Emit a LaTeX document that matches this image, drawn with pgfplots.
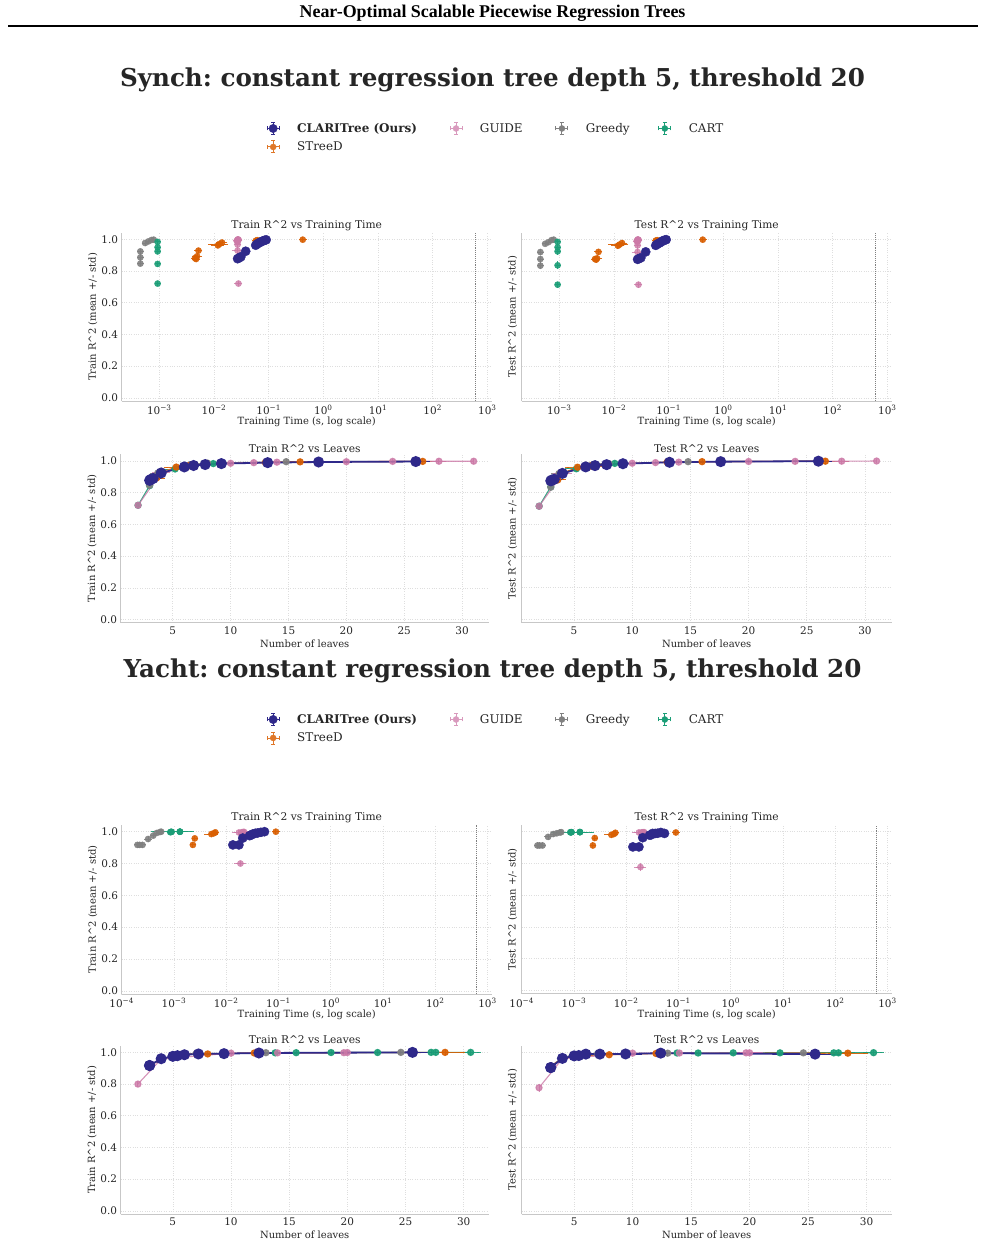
\documentclass[border=0pt]{standalone}
\usepackage{fontspec}
\setmainfont{DejaVu Serif}
\newfontfamily\headfont{Liberation Serif}
\usepackage{pgfplots}
\usepackage{pgfplotstable}
\pgfplotsset{compat=1.18}
\frenchspacing

\definecolor{cClari}{HTML}{2F298A}
\definecolor{cSt}{HTML}{D95F02}
\definecolor{cGu}{HTML}{CC79A7}
\definecolor{cGr}{HTML}{808080}
\definecolor{cCa}{HTML}{1B9E77}
\definecolor{c15}{HTML}{262626}

\newcommand\tickfont{\fontsize{10.5}{12}\selectfont}
\newcommand\labfont{\fontsize{10}{12}\selectfont}
\newcommand\titfont{\fontsize{10.7}{12.5}\selectfont}
\newcommand\legfont{\fontsize{12}{14}\selectfont}

% columns: leaves, leaves std, fit time (s), time std, train R2, std, test R2, std
% ---------------- Synch ----------------
\pgfplotstableread{
lv   lve  t       te      tr    tre   ts    tse
3.0  0.1  0.027   0.001   0.878 0.004 0.874 0.006
3.1  0.3  0.029   0.001   0.884 0.005 0.879 0.007
3.3  0.5  0.031   0.002   0.890 0.006 0.884 0.008
4.0  0.0  0.038   0.002   0.925 0.003 0.921 0.005
6.0  0.5  0.058   0.003   0.963 0.003 0.962 0.004
6.8  0.6  0.062   0.003   0.972 0.002 0.970 0.003
7.8  0.7  0.067   0.003   0.978 0.002 0.976 0.003
9.2  0.9  0.072   0.004   0.984 0.002 0.982 0.002
13.2 1.4  0.078   0.004   0.990 0.001 0.991 0.002
17.6 1.5  0.084   0.005   0.994 0.001 0.995 0.001
26.0 1.0  0.090   0.005   0.997 0.001 0.998 0.001
}\syClari
\pgfplotstableread{
lv   lve  t       te      tr    tre   ts    tse
3.0  0.2  0.0047  0.0004  0.876 0.004 0.872 0.006
3.2  0.3  0.0045  0.0003  0.882 0.004 0.876 0.006
3.6  0.5  0.0049  0.0006  0.893 0.005 0.880 0.008
4.0  0.0  0.0052  0.0004  0.929 0.003 0.921 0.005
5.3  0.9  0.0118  0.0020  0.962 0.004 0.960 0.005
6.4  0.8  0.0126  0.0040  0.971 0.003 0.967 0.005
7.9  0.6  0.0140  0.0020  0.980 0.002 0.977 0.003
13.0 0.9  0.058   0.004   0.991 0.001 0.992 0.001
16.0 1.2  0.062   0.005   0.995 0.001 0.995 0.001
26.6 1.8  0.42    0.03    0.998 0.001 0.998 0.001
}\sySt
\pgfplotstableread{
lv   lve  t       te      tr    tre   ts    tse
2.0  0.0  0.028   0.002   0.721 0.004 0.714 0.006
4.0  0.6  0.027   0.004   0.929 0.008 0.920 0.010
6.0  0.5  0.027   0.002   0.967 0.004 0.962 0.005
10.0 0.5  0.027   0.002   0.986 0.002 0.985 0.002
12.0 0.6  0.026   0.002   0.990 0.001 0.989 0.002
14.0 0.7  0.027   0.002   0.993 0.001 0.992 0.001
20.0 0.8  0.028   0.002   0.996 0.001 0.996 0.001
24.0 0.9  0.027   0.002   0.998 0.001 0.997 0.001
28.0 0.4  0.028   0.002   0.999 0.001 0.998 0.001
31.0 0.0  0.027   0.002   0.999 0.001 0.999 0.001
}\syGu
\pgfplotstableread{
lv   lve  t       te      tr    tre   ts    tse
3.0  0.0  0.00045 0.00002 0.847 0.004 0.834 0.010
3.3  0.4  0.00045 0.00002 0.886 0.006 0.876 0.008
3.7  0.5  0.00045 0.00002 0.924 0.004 0.920 0.006
6.5  0.6  0.00055 0.00003 0.977 0.002 0.972 0.003
8.0  0.7  0.00063 0.00003 0.987 0.002 0.982 0.002
14.8 1.0  0.00072 0.00004 0.996 0.001 0.995 0.001
26.0 1.2  0.00079 0.00004 0.998 0.001 0.998 0.001
}\syGr
\pgfplotstableread{
lv   lve  t       te      tr    tre   ts    tse
2.0  0.0  0.00093 0.00003 0.721 0.004 0.714 0.006
3.0  0.0  0.00093 0.00003 0.845 0.005 0.836 0.012
4.0  0.0  0.00093 0.00003 0.924 0.004 0.924 0.006
5.2  0.8  0.00093 0.00003 0.950 0.006 0.950 0.007
8.5  0.6  0.00093 0.00003 0.984 0.002 0.984 0.003
}\syCa
% ---------------- Yacht ----------------
\pgfplotstableread{
lv   lve  t       te      tr    tre   ts    tse
3.0  0.0  0.0134  0.0010  0.917 0.003 0.904 0.005
3.0  0.0  0.0175  0.0012  0.917 0.003 0.904 0.005
4.0  0.0  0.0207  0.0015  0.960 0.003 0.962 0.004
5.0  0.0  0.028   0.002   0.975 0.002 0.978 0.003
5.4  0.5  0.030   0.002   0.979 0.002 0.980 0.003
6.0  0.6  0.032   0.002   0.985 0.002 0.989 0.002
7.2  0.8  0.036   0.003   0.990 0.001 0.989 0.002
9.4  1.2  0.040   0.003   0.992 0.001 0.990 0.002
12.4 1.6  0.046   0.003   0.996 0.001 0.995 0.001
25.6 2.0  0.054   0.004   1.000 0.000 0.989 0.002
}\yaClari
\pgfplotstableread{
lv   lve  t       te      tr    tre   ts    tse
3.0  0.0  0.0023  0.0001  0.917 0.003 0.913 0.005
4.0  0.0  0.0025  0.0001  0.958 0.003 0.960 0.004
5.5  0.6  0.0052  0.0010  0.985 0.002 0.980 0.003
8.0  0.5  0.0058  0.0006  0.990 0.002 0.985 0.003
12.0 0.8  0.0062  0.0005  0.996 0.001 0.993 0.002
28.4 1.5  0.089   0.006   1.000 0.000 0.995 0.002
}\yaSt
\pgfplotstableread{
lv   lve  t       te      tr    tre   ts    tse
2.0  0.0  0.0187  0.0030  0.800 0.004 0.777 0.012
4.0  0.0  0.0210  0.0020  0.958 0.003 0.960 0.005
10.0 0.6  0.0175  0.0035  0.995 0.001 0.995 0.002
14.0 0.8  0.0200  0.0020  0.997 0.001 0.996 0.002
19.7 0.9  0.0210  0.0020  0.998 0.001 0.997 0.002
20.0 1.0  0.0220  0.0020  0.999 0.001 0.997 0.002
}\yaGu
\pgfplotstableread{
lv   lve  t       te      tr    tre   ts    tse
3.0  0.0  0.00020 0.00001 0.917 0.003 0.913 0.005
3.0  0.0  0.00022 0.00001 0.917 0.003 0.913 0.005
3.0  0.0  0.00025 0.00001 0.917 0.003 0.913 0.005
4.0  0.0  0.00032 0.00002 0.954 0.003 0.967 0.004
5.0  0.0  0.00040 0.00002 0.975 0.002 0.985 0.003
7.0  0.5  0.00047 0.00002 0.992 0.002 0.990 0.002
13.0 0.8  0.00054 0.00003 0.998 0.001 0.995 0.002
24.6 1.2  0.00057 0.00003 1.000 0.000 0.997 0.002
}\yaGr
\pgfplotstableread{
lv   lve  t       te      tr    tre   ts    tse
13.8 0.8  0.00085 0.00005 0.997 0.001 0.996 0.002
15.6 0.9  0.00087 0.00005 0.998 0.001 0.996 0.002
18.6 1.0  0.00089 0.00005 0.999 0.001 0.997 0.002
22.6 1.1  0.00090 0.00005 0.999 0.001 0.997 0.002
27.2 1.2  0.00130 0.00090 1.000 0.000 0.997 0.002
27.6 1.2  0.00130 0.00040 1.000 0.000 0.997 0.002
30.6 0.7  0.00130 0.00020 1.000 0.000 0.998 0.002
}\yaCa

% legend key: marker with a small error-bar cross
\pgfplotsset{legend image code/.code={%
    \draw[#1, solid, line width=0.9bp] (-6bp,0bp) -- (6bp,0bp) (0bp,-6bp) -- (0bp,6bp)
      (-6bp,-2bp) -- (-6bp,2bp) (6bp,-2bp) -- (6bp,2bp)
      (-2bp,-6bp) -- (2bp,-6bp) (-2bp,6bp) -- (2bp,6bp);
    \draw[#1] plot coordinates {(0bp,0bp)};}}

\pgfplotsset{
  panel/.style={scale only axis, width=370bp, height=168.3bp,
    axis lines*=left, axis line style={black!22, line width=0.8bp},
    major tick length=0pt, minor tick length=0pt, grid=major,
    major grid style={dotted, line width=0.6bp, black!13},
    ymin=-0.02, ymax=1.042, ytick={0,0.2,0.4,0.6,0.8,1.0},
    tick label style={font=\tickfont, text=c15, inner sep=0pt},
    yticklabel shift=3.5bp, xticklabel shift=4bp,
    every axis title shift=0pt,
    title style={font=\titfont, text=c15, inner sep=0pt,
      at={(axis description cs:0.5,1)}, anchor=south, yshift=1.5bp},
    label style={font=\labfont, text=c15, inner sep=0pt},
    xlabel style={at={(axis description cs:0.5,0)}, anchor=center, yshift=-21bp},
    clip=false},
  leftpanel/.style={panel, yticklabels={0.0,0.2,0.4,0.6,0.8,1.0},
    ylabel style={at={(axis description cs:-0.0776,0.5)}, anchor=center}},
  rightpanel/.style={panel, yticklabels={},
    ylabel style={at={(axis description cs:-0.0243,0.5)}, anchor=center}},
  sytime/.style={xmin=2.05e-4, xmax=1200, xlabel={Training Time (s, log scale)},
    xtick={1e-3,1e-2,1e-1,1,10,100,1000},
    xticklabels={10\textsuperscript{−3},10\textsuperscript{−2},10\textsuperscript{−1},10\textsuperscript{0},10\textsuperscript{1},10\textsuperscript{2},10\textsuperscript{3}}},
  yatime/.style={xmin=1e-4, xmax=1200, xlabel={Training Time (s, log scale)},
    xtick={1e-4,1e-3,1e-2,1e-1,1,10,100,1000},
    xticklabels={10\textsuperscript{−4},10\textsuperscript{−3},10\textsuperscript{−2},10\textsuperscript{−1},10\textsuperscript{0},10\textsuperscript{1},10\textsuperscript{2},10\textsuperscript{3}}},
  leafpanel/.style={xmin=0.5, xmax=32.3, xtick={5,10,15,20,25,30},
    xticklabels={5,10,15,20,25,30}, xlabel={Number of leaves}},
  errs/.style={
    error bars/x dir=both, error bars/x explicit,
    error bars/y dir=both, error bars/y explicit,
    error bars/error bar style={line width=0.9bp, solid},
    error bars/error mark options={line width=0.9bp, mark size=2.2bp}},
  sClari/.style={forget plot, color=cClari, mark=*, mark size=4.6bp,
    mark options={solid, fill=cClari, draw=cClari}},
  sSt/.style={forget plot, color=cSt, opacity=0.9, mark=*, mark size=3.1bp,
    mark options={solid, fill=cSt, draw=cSt}},
  sGu/.style={forget plot, color=cGu, opacity=0.8, mark=*, mark size=3.1bp,
    mark options={solid, fill=cGu, draw=cGu}},
  sGr/.style={forget plot, color=cGr, opacity=0.9, mark=*, mark size=3.1bp,
    mark options={solid, fill=cGr, draw=cGr}},
  sCa/.style={forget plot, color=cCa, opacity=0.9, mark=*, mark size=3.1bp,
    mark options={solid, fill=cCa, draw=cCa}},
  methodlegend/.style={legend columns=4, legend cell align=left,
    legend style={at={(axis description cs:0.3914,#1)}, anchor=north west,
      draw=none, fill=none, inner sep=0pt, row sep=4bp,
      font=\legfont, text=c15}},
}

% scatter of score against fit time, one call per panel
\newcommand\timeseries[6]{%
  \addplot[sSt, only marks, errs] table[x=t, y=#1, x error=te, y error=#1e]{#3};
  \addplot[sGu, only marks, errs] table[x=t, y=#1, x error=te, y error=#1e]{#4};
  \addplot[sGr, only marks, errs] table[x=t, y=#1, x error=te, y error=#1e]{#5};
  \addplot[sCa, only marks, errs] table[x=t, y=#1, x error=te, y error=#1e]{#6};
  \addplot[sClari, only marks, errs] table[x=t, y=#1, x error=te, y error=#1e]{#2};
  \addplot[forget plot, densely dotted, line width=0.9bp, gray] coordinates {(600,-0.02) (600,1.042)};
}
% score against number of leaves, points joined in order of size
\newcommand\leafseries[6]{%
  \addplot[sCa, line width=1.1bp, errs] table[x=lv, y=#1, x error=lve, y error=#1e]{#6};
  \addplot[sGr, line width=1.1bp, errs] table[x=lv, y=#1, x error=lve, y error=#1e]{#5};
  \addplot[sSt, line width=1.1bp, errs] table[x=lv, y=#1, x error=lve, y error=#1e]{#3};
  \addplot[sGu, line width=1.1bp, errs] table[x=lv, y=#1, x error=lve, y error=#1e]{#4};
  \addplot[sClari, line width=1.8bp, errs] table[x=lv, y=#1, x error=lve, y error=#1e]{#2};
}
\newcommand\methodentries{%
  \addlegendimage{color=cClari, mark=*, mark size=4.2bp, mark options={solid, fill=cClari}}
  \addlegendentry{\makebox[166bp][l]{\hspace{15.5bp}\textbf{CLARITree (Ours)}}}
  \addlegendimage{color=cGu!75, mark=*, mark size=3bp, mark options={solid, fill=cGu!75}}
  \addlegendentry{\makebox[89bp][l]{\hspace{15.5bp}GUIDE}}
  \addlegendimage{color=cGr, mark=*, mark size=3bp, mark options={solid, fill=cGr}}
  \addlegendentry{\makebox[86bp][l]{\hspace{15.5bp}Greedy}}
  \addlegendimage{color=cCa, mark=*, mark size=3bp, mark options={solid, fill=cCa}}
  \addlegendentry{\makebox[50bp][l]{\hspace{15.5bp}CART}}
  \addlegendimage{color=cSt!85, mark=*, mark size=3bp, mark options={solid, fill=cSt!85}}
  \addlegendentry{\makebox[60bp][l]{\hspace{15.5bp}STreeD}}
}

\begin{document}
\begin{tikzpicture}
\useasboundingbox (0bp,0bp) rectangle (985bp,-1244bp);
\fill[white] (0bp,0bp) rectangle (985bp,-1244bp);

\node[font=\headfont\bfseries\fontsize{18}{21}\selectfont, inner sep=0pt] at (492.5bp,-13bp) {Near-Optimal Scalable Piecewise Regression Trees};
\draw[line width=2bp] (8bp,-25.5bp) -- (978bp,-25.5bp);

\node[font=\bfseries\fontsize{24.7}{28}\selectfont, text=c15, inner sep=0pt] at (492.5bp,-80bp) {Synch: constant regression tree depth 5, threshold 20};
\node[font=\bfseries\fontsize{24.7}{28}\selectfont, text=c15, inner sep=0pt] at (492.5bp,-671bp) {Yacht: constant regression tree depth 5, threshold 20};

% ---------------- Synch ----------------
\begin{axis}[xmode=log, leftpanel, sytime, at={(121.7bp,-401bp)}, anchor=south west,
  title={Train R\^{}2 vs Training Time}, ylabel={Train R\^{}2 (mean +/- std)},
  methodlegend=1.6637]
  \methodentries
  \timeseries{tr}{\syClari}{\sySt}{\syGu}{\syGr}{\syCa}
\end{axis}
\begin{axis}[xmode=log, rightpanel, sytime, at={(521.7bp,-401bp)}, anchor=south west,
  title={Test R\^{}2 vs Training Time}, ylabel={Test R\^{}2 (mean +/- std)}]
  \timeseries{ts}{\syClari}{\sySt}{\syGu}{\syGr}{\syCa}
\end{axis}
\begin{axis}[leftpanel, leafpanel, at={(120.7bp,-622.7bp)}, anchor=south west, width=368bp,
  title={Train R\^{}2 vs Leaves}, ylabel={Train R\^{}2 (mean +/- std)}]
  \leafseries{tr}{\syClari}{\sySt}{\syGu}{\syGr}{\syCa}
\end{axis}
\begin{axis}[rightpanel, leafpanel, at={(521.7bp,-622.5bp)}, anchor=south west,
  title={Test R\^{}2 vs Leaves}, ylabel={Test R\^{}2 (mean +/- std)}]
  \leafseries{ts}{\syClari}{\sySt}{\syGu}{\syGr}{\syCa}
\end{axis}

% ---------------- Yacht ----------------
\begin{axis}[xmode=log, leftpanel, yatime, at={(121.7bp,-994bp)}, anchor=south west, height=169bp,
  title={Train R\^{}2 vs Training Time}, ylabel={Train R\^{}2 (mean +/- std)},
  methodlegend=1.6686]
  \methodentries
  \timeseries{tr}{\yaClari}{\yaSt}{\yaGu}{\yaGr}{\yaCa}
\end{axis}
\begin{axis}[xmode=log, rightpanel, yatime, at={(521.7bp,-993.5bp)}, anchor=south west, height=168.5bp,
  title={Test R\^{}2 vs Training Time}, ylabel={Test R\^{}2 (mean +/- std)}]
  \timeseries{ts}{\yaClari}{\yaSt}{\yaGu}{\yaGr}{\yaCa}
\end{axis}
\begin{axis}[leftpanel, leafpanel, xmin=0.52, xmax=32.15, at={(120.7bp,-1214bp)}, anchor=south west, width=368bp,
  title={Train R\^{}2 vs Leaves}, ylabel={Train R\^{}2 (mean +/- std)}]
  \leafseries{tr}{\yaClari}{\yaSt}{\yaGu}{\yaGr}{\yaCa}
\end{axis}
\begin{axis}[rightpanel, leafpanel, xmin=0.52, xmax=32.15, at={(521.7bp,-1214bp)}, anchor=south west,
  title={Test R\^{}2 vs Leaves}, ylabel={Test R\^{}2 (mean +/- std)}]
  \leafseries{ts}{\yaClari}{\yaSt}{\yaGu}{\yaGr}{\yaCa}
\end{axis}
\end{tikzpicture}
\end{document}
